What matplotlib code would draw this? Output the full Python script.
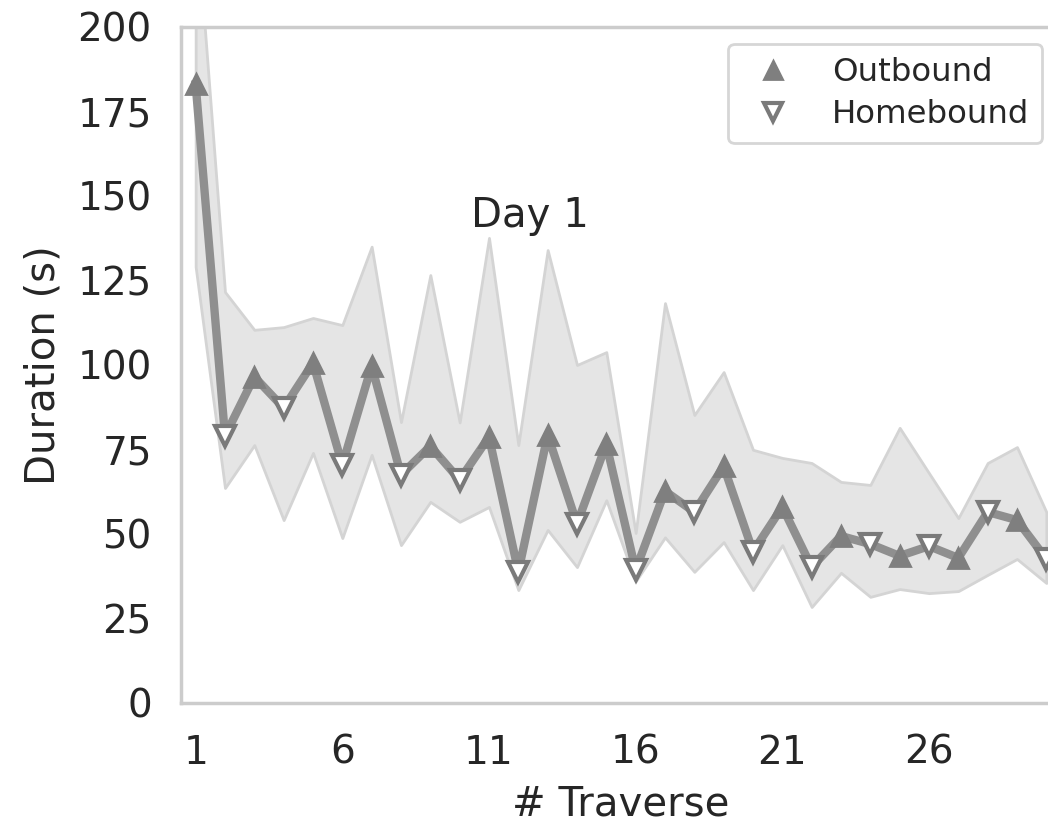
"""Traverse durations, day 1: outbound vs homebound."""

import matplotlib
matplotlib.use("Agg")
import matplotlib.pyplot as plt
import numpy as np

traverse = np.arange(1, 31)
mean_dur = [183, 79, 96.5, 87.3, 100.6, 70.4, 99.7, 67.5, 76, 66,
            78.7, 38.8, 79.3, 53, 76.6, 39.3, 62.7, 56.5, 70, 44.8,
            58, 40.2, 49.4, 47, 43.5, 46.4, 42.9, 56.5, 54.1, 42.6]
upper = [235, 121.6, 110.4, 111.2, 113.9, 111.8, 135, 83.1, 126.6, 83,
         137.6, 76.3, 134, 100, 103.8, 50.3, 118.3, 85.2, 97.9, 74.9,
         72.5, 71, 65.4, 64.5, 81.4, 68, 54.7, 71, 75.7, 56.5]
lower = [129, 63.6, 76.3, 54.1, 74, 48.8, 73.4, 46.7, 59.5, 53.6,
         58, 33.4, 51.2, 40.2, 60, 36, 49, 38.8, 47.6, 33.4,
         46.7, 28.4, 38.5, 31.4, 33.7, 32.5, 33.1, 37.9, 42.6, 35.5]

xticks = [1, 6, 11, 16, 21, 26]
yticks = [0, 25, 50, 75, 100, 125, 150, 175, 200]

plt.rcParams["font.family"] = "DejaVu Sans"
plt.rcParams["text.color"] = "#262626"
plt.rcParams["axes.labelcolor"] = "#262626"

fig = plt.figure(figsize=(10.48, 8.22), dpi=100)
ax = fig.add_axes([0.1727, 0.1448, 0.8397, 0.8224])

ax.fill_between(traverse, lower, upper, facecolor="#e5e5e5",
                edgecolor="#d4d4d4", linewidth=2, zorder=1)
ax.plot(traverse, mean_dur, color="#8f8f8f", lw=6, zorder=2)

out_x = traverse[0::2]
home_x = traverse[1::2]
ax.plot(out_x, mean_dur[0::2], ls="none", marker="^", ms=15,
        mfc="#7f7f7f", mec="#7f7f7f", mew=2, zorder=3, label="Outbound")
ax.plot(home_x, mean_dur[1::2], ls="none", marker="v", ms=15,
        mfc="white", mec="#7a7a7a", mew=3, zorder=3, label="Homebound")

ax.text(12.4, 144, "Day 1", fontsize=29, ha="center", va="center")

ax.set_xlim(0.5, 30.5)
ax.set_ylim(0, 200)
ax.set_xticks(xticks)
ax.set_yticks(yticks)
ax.tick_params(labelsize=28, length=0, pad=22, colors="#262626")
ax.tick_params(axis="y", pad=21)
ax.set_xlabel("# Traverse", fontsize=29, labelpad=9)
ax.set_ylabel("Duration (s)", fontsize=29, labelpad=10)
for s in ax.spines.values():
    s.set_color("#cccccc")
    s.set_linewidth(2.5)

leg = ax.legend(loc="upper right", bbox_to_anchor=(1042 / 1048, 1 - 44 / 822),
                bbox_transform=fig.transFigure, fontsize=23.3, frameon=True,
                borderaxespad=0, borderpad=0.4, labelspacing=0.35,
                markerscale=0.85, fancybox=True)
leg.get_frame().set_edgecolor("#cccccc")
leg.get_frame().set_linewidth(2)

fig.savefig("out.png", dpi=100)
